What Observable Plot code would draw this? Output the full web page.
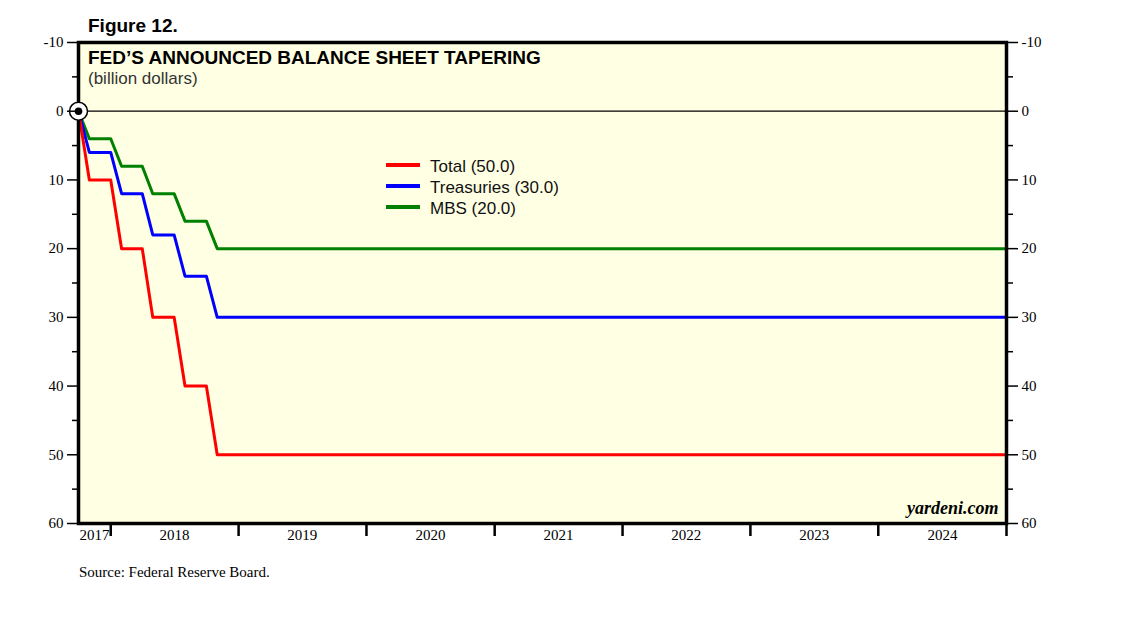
<!DOCTYPE html>
<html>
<head>
<meta charset="utf-8">
<script src="https://cdn.jsdelivr.net/npm/d3@7"></script>
<script src="https://cdn.jsdelivr.net/npm/@observablehq/plot@0.6"></script>
<style>
  html, body { margin: 0; padding: 0; background: #fff; }
  #wrap { position: relative; width: 1138px; height: 621px; }
  #wrap svg { position: absolute; left: 0; top: 0; }
  .ov { position: absolute; white-space: nowrap; line-height: 1; }
  #fig { left: 88px; top: 14.5px; font: bold 19px "Liberation Sans", Arial, sans-serif; color: #000; }
  #title { left: 88px; top: 47px; font: bold 19px "Liberation Sans", Arial, sans-serif; color: #000; }
  #sub { left: 88px; top: 69px; font: 17px "Liberation Sans", Arial, sans-serif; color: #333; }
  #src { left: 79px; top: 563.5px; font: 15px "Liberation Serif", "Times New Roman", serif; color: #000; }
  #legend { left: 386px; top: 154.5px; font: 17px "Liberation Sans", Arial, sans-serif; color: #111; }
  #legend .row { display: flex; align-items: center; height: 21px; }
  #legend .sw { width: 34px; height: 3.5px; margin-right: 10px; }
  #legend span { position: relative; top: 1.5px; }
</style>
</head>
<body>
<div id="wrap">
  <div class="ov" id="fig">Figure 12.</div>
  <div class="ov" id="title">FED’S ANNOUNCED BALANCE SHEET TAPERING</div>
  <div class="ov" id="sub">(billion dollars)</div>
  <div class="ov" id="legend"></div>
  <div class="ov" id="src">Source: Federal Reserve Board.</div>
</div>
<script>
// ---- Data ----
const dates      = ["2017-10-01","2017-11-01","2018-01-01","2018-02-01","2018-04-01","2018-05-01","2018-07-01","2018-08-01","2018-10-01","2018-11-01","2025-01-01"];
const total      = [0, 10, 10, 20, 20, 30, 30, 40, 40, 50, 50];
const treasuries = [0,  6,  6, 12, 12, 18, 18, 24, 24, 30, 30];
const mbs        = [0,  4,  4,  8,  8, 12, 12, 16, 16, 20, 20];

const seriesNames  = ["Total (50.0)", "Treasuries (30.0)", "MBS (20.0)"];
const seriesColors = ["#ff0000", "#0000ff", "#008000"];

const yearTickDates  = ["2018-01-01","2019-01-01","2020-01-01","2021-01-01","2022-01-01","2023-01-01","2024-01-01","2025-01-01"];
const yearLabels     = ["2017","2018","2019","2020","2021","2022","2023","2024"];
const yearLabelDates = ["2017-11-16","2018-07-02","2019-07-02","2020-07-02","2021-07-02","2022-07-02","2023-07-02","2024-07-02"];

const yMajor = [-10, 0, 10, 20, 30, 40, 50, 60];
const yMinor = [-5, 5, 15, 25, 35, 45, 55];

// ---- Build tables ----
const parse = s => new Date(s + "T00:00:00Z");
const mk = vals => dates.map((d, i) => ({date: parse(d), value: vals[i]}));
const sTotal = mk(total), sTreas = mk(treasuries), sMbs = mk(mbs);
const origin = [{date: parse(dates[0]), value: total[0]}];
const labelRows = yearLabels.map((l, i) => ({date: parse(yearLabelDates[i]), label: l}));

const serif = '"Liberation Serif", "Times New Roman", serif';

const chart = Plot.plot({
  width: 1138,
  height: 621,
  marginLeft: 78,
  marginRight: 132,
  marginTop: 42,
  marginBottom: 98,
  style: {background: "transparent", fontFamily: serif, fontSize: "15px", color: "#000"},
  x: {type: "utc", domain: [parse("2017-10-01"), parse("2025-01-01")]},
  y: {domain: [-10, 60], reverse: true},
  marks: [
    Plot.frame({fill: "#ffffe3", stroke: null}),
    Plot.ruleY([0], {stroke: "#000", strokeWidth: 1.2}),
    Plot.line(sMbs,   {x: "date", y: "value", stroke: seriesColors[2], strokeWidth: 3}),
    Plot.line(sTreas, {x: "date", y: "value", stroke: seriesColors[1], strokeWidth: 3}),
    Plot.line(sTotal, {x: "date", y: "value", stroke: seriesColors[0], strokeWidth: 3}),
    Plot.frame({stroke: "#000", strokeWidth: 3.5}),
    Plot.dot(origin, {x: "date", y: "value", r: 9, fill: "white", stroke: "#000", strokeWidth: 1.5}),
    Plot.dot(origin, {x: "date", y: "value", r: 3.8, fill: "#000", stroke: null}),
    Plot.axisY(yMajor, {anchor: "left", tickSize: 11, tickPadding: 4, strokeWidth: 1.5, tickFormat: d => String(d), fontSize: 15, label: null}),
    Plot.axisY(yMinor, {anchor: "left", tickSize: 6, strokeWidth: 1.5, tickFormat: () => "", label: null}),
    Plot.axisY(yMajor, {anchor: "right", tickSize: 11, tickPadding: 4, strokeWidth: 1.5, tickFormat: d => String(d), fontSize: 15, label: null}),
    Plot.axisY(yMinor, {anchor: "right", tickSize: 6, strokeWidth: 1.5, tickFormat: () => "", label: null}),
    Plot.axisX(yearTickDates.map(parse), {anchor: "bottom", tickSize: 13, strokeWidth: 2.5, tickFormat: () => "", label: null}),
    Plot.text(labelRows, {x: "date", text: "label", frameAnchor: "bottom", dy: 16, fontSize: 15, fill: "#000"}),
    Plot.text(["yardeni.com"], {frameAnchor: "bottom-right", dx: -8, dy: -10, fontSize: 18, fontStyle: "italic", fontWeight: "bold", fill: "#000"})
  ]
});
document.getElementById("wrap").prepend(chart);

// ---- Legend ----
const lg = document.getElementById("legend");
seriesNames.forEach((n, i) => {
  const row = document.createElement("div");
  row.className = "row";
  const sw = document.createElement("div");
  sw.className = "sw";
  sw.style.background = seriesColors[i];
  const t = document.createElement("span");
  t.textContent = n;
  row.append(sw, t);
  lg.append(row);
});
</script>
</body>
</html>
